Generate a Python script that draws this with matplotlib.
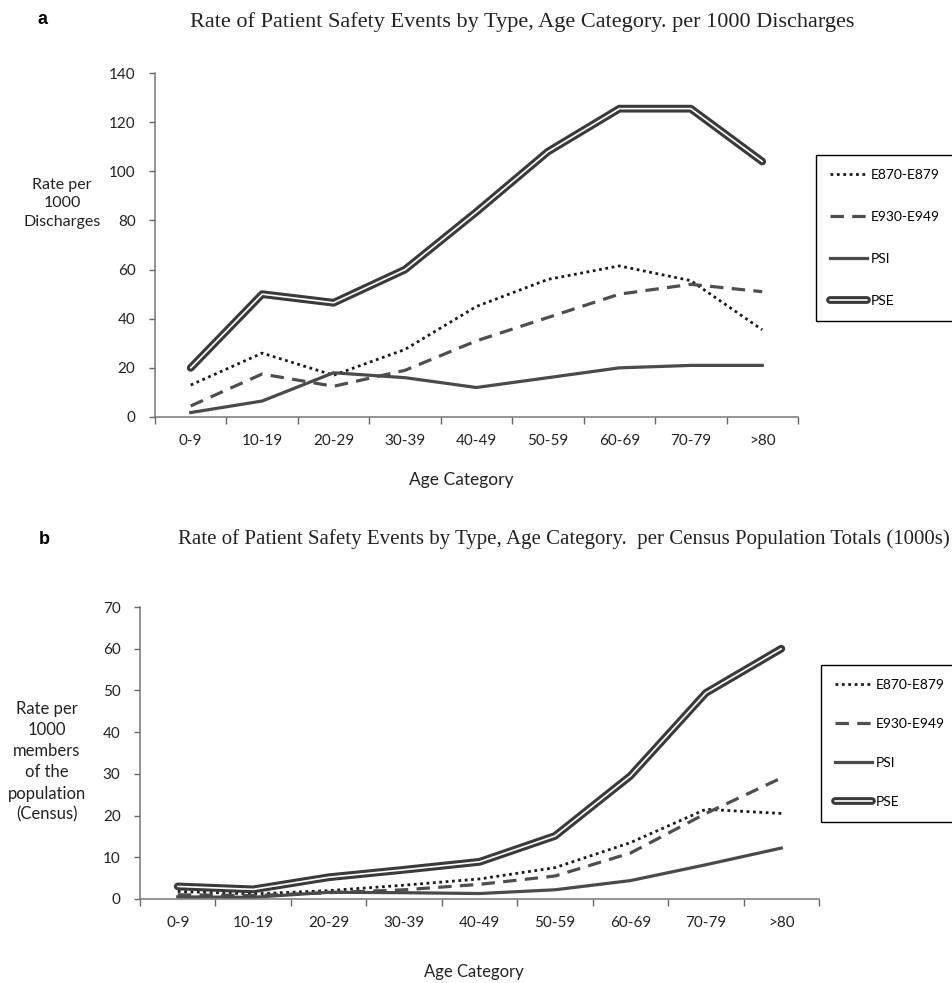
import matplotlib
matplotlib.use('Agg')
import matplotlib.pyplot as plt
import matplotlib.patheffects as pe
import numpy as np

# Age categories along the x axis
age_groups = ['0-9', '10-19', '20-29', '30-39', '40-49', '50-59', '60-69', '70-79', '>80']
series_names = ['E870-E879', 'E930-E949', 'PSI', 'PSE']

# Panel a: rate per 1000 discharges
disch_e870 = [13, 26, 17, 27.5, 45, 56, 61.5, 55.5, 35.5]
disch_e930 = [4.5, 17.5, 12.5, 19, 31, 40.5, 50, 54, 51]
disch_psi = [1.8, 6.5, 18, 16, 12, 16, 20, 21, 21]
disch_pse = [20, 50, 46.5, 60, 83.5, 108, 125.5, 125.5, 104]

# Panel b: rate per 1000 members of the census population
census_e870 = [1.8, 1.2, 2.0, 3.3, 4.8, 7.5, 13.5, 21.5, 20.5]
census_e930 = [1.0, 0.8, 1.5, 2.2, 3.5, 5.5, 11, 20.5, 29]
census_psi = [0.5, 0.4, 1.6, 1.5, 1.3, 2.2, 4.4, 8.2, 12.2]
census_pse = [3.0, 2.3, 5.2, 7.0, 8.9, 15.1, 29.5, 49.4, 60]

sans = ['Lato', 'DejaVu Sans']
serif = ['Liberation Serif', 'DejaVu Serif']
plt.rcParams['font.family'] = sans

fig = plt.figure(figsize=(9.52, 9.83), dpi=100)


def draw_panel(ax, e870, e930, psi, pse, ymax, ystep):
    x = np.arange(len(age_groups))
    ax.plot(x, e870, color='#1a1a1a', lw=2.0, ls=(0, (1, 1.3)), label=series_names[0])
    ax.plot(x, e930, color='#4e4e4e', lw=2.3, ls=(0, (4.2, 2.6)), label=series_names[1])
    ax.plot(x, psi, color='#4a4a4a', lw=2.3, label=series_names[2])
    # PSE is drawn as a hollow double line: dark outline, white core
    ax.plot(x, pse, color='white', lw=1.2, solid_capstyle='round', solid_joinstyle='round',
            label=series_names[3],
            path_effects=[pe.Stroke(linewidth=5.6, foreground='#3a3a3a', capstyle='round',
                                    joinstyle='round'), pe.Normal()])

    ax.set_xlim(-0.5, len(age_groups) - 0.5)
    ax.set_ylim(0, ymax)
    ax.set_yticks(np.arange(0, ymax + 1, ystep))
    # tick marks between categories, labels at category centres
    ax.set_xticks(np.arange(-0.5, len(age_groups)), labels=[])
    ax.set_xticks(x, labels=age_groups, minor=True)
    ax.tick_params(axis='x', which='major', direction='out', length=5, width=1, color='#666666')
    ax.tick_params(axis='x', which='minor', length=0, pad=12, labelsize=11, labelcolor='#222222')
    ax.tick_params(axis='y', direction='out', length=4, width=1, color='#666666',
                   pad=10, labelsize=11, labelcolor='#222222')
    for side in ['top', 'right']:
        ax.spines[side].set_visible(False)
    for side in ['left', 'bottom']:
        ax.spines[side].set_color('#777777')
        ax.spines[side].set_linewidth(1.1)


def add_legend(ax, anchor, spacing):
    leg = ax.legend(loc='upper left', bbox_to_anchor=anchor, bbox_transform=fig.transFigure,
                    fontsize=10, handlelength=2.7, handletextpad=0.25, labelspacing=spacing,
                    borderpad=1.0, borderaxespad=0, fancybox=False, framealpha=1)
    leg.get_frame().set_edgecolor('black')
    leg.get_frame().set_linewidth(1.0)
    return leg


# Panel a
ax_a = fig.add_axes([0.1628, 0.5758, 0.6754, 0.3499])
draw_panel(ax_a, disch_e870, disch_e930, disch_psi, disch_pse, 140, 20)
add_legend(ax_a, (0.857, 0.842), 2.15)

fig.text(0.045, 0.98, 'a', family=['Liberation Sans', 'DejaVu Sans'], weight='bold',
         fontsize=13, ha='center', va='center')
fig.text(0.548, 0.978, 'Rate of Patient Safety Events by Type, Age Category. per 1000 Discharges',
         family=serif, fontsize=16, ha='center', va='center', color='#222222')
fig.text(0.065, 0.793, 'Rate per\n1000\nDischarges', fontsize=11.5, ha='center', va='center',
         linespacing=1.45, color='#222222')
fig.text(0.484, 0.512, 'Age Category', fontsize=12.5, ha='center', va='center', color='#222222')

# Panel b
ax_b = fig.add_axes([0.1471, 0.0855, 0.7132, 0.2970])
draw_panel(ax_b, census_e870, census_e930, census_psi, census_pse, 70, 10)
add_legend(ax_b, (0.862, 0.3235), 1.95)

fig.text(0.047, 0.451, 'b', family=['Liberation Sans', 'DejaVu Sans'], weight='bold',
         fontsize=13, ha='center', va='center')
fig.text(0.592, 0.452,
         'Rate of Patient Safety Events by Type, Age Category.  per Census Population Totals (1000s)',
         family=serif, fontsize=15, ha='center', va='center', color='#222222')
fig.text(0.049, 0.225, 'Rate per\n1000\nmembers\nof the\npopulation\n(Census)', fontsize=12,
         ha='center', va='center', linespacing=1.4, color='#222222')
fig.text(0.498, 0.011, 'Age Category', fontsize=12, ha='center', va='center', color='#222222')

fig.savefig('out.png', dpi=100)
